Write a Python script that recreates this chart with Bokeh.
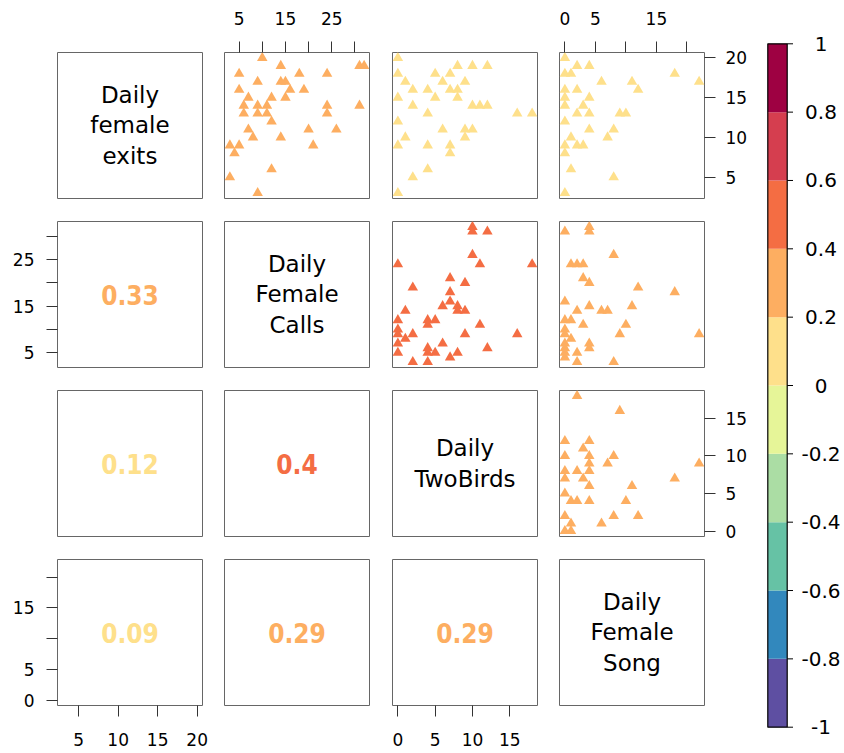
from bokeh.plotting import figure
from bokeh.layouts import row, column
from bokeh.models import LinearAxis, FixedTicker, Range1d
from bokeh.core.properties import value
from bokeh.embed import file_html
from bokeh.resources import INLINE

# ---------------- data ----------------
var_names = ["Daily\nfemale\nexits", "Daily\nFemale\nCalls", "Daily\nTwoBirds", "Daily\nFemale\nSong"]

# upper panel (row 1, col 2): x = calls, y = exits
p12_calls = [10, 14, 31, 32, 5, 18, 24, 9, 14, 15, 5, 16, 19, 7, 12, 15, 6, 9, 11, 24, 31,
             6, 9, 11, 24, 12, 7, 20, 26, 8, 14, 3, 5, 21, 4, 12, 3, 9]
p12_exits = [20, 19, 19, 19, 18, 18, 18, 17, 17, 17, 16, 16, 16, 15, 15, 15, 14, 14, 14, 14, 14,
             13, 13, 13, 13, 12, 11, 11, 11, 10, 10, 9, 9, 9, 8, 6, 5, 3]
# upper panel (row 1, col 3): x = two birds, y = exits
p13_twobirds = [0, 8, 10, 12, 0, 5, 7, 1, 6, 9, 2, 4, 7, 8, 0, 5, 8, 2, 10, 11, 12,
                4, 16, 18, 0, 6, 9, 10, 1, 9, 0, 4, 7, 7, 4, 2, 0]
p13_exits = [20, 19, 19, 19, 18, 18, 18, 17, 17, 17, 16, 16, 16, 16, 15, 15, 15, 14, 14, 14, 14,
             13, 13, 13, 12, 11, 11, 11, 10, 10, 9, 9, 9, 8, 6, 5, 3]
# upper panel (row 1, col 4): x = song, y = exits
p14_song = [0, 2, 4, 0, 1, 18, 6, 11, 22, 0, 2, 12, 0, 4, 0, 3, 2, 4, 9, 10, 0, 4, 8, 1, 7,
            0, 2, 3, 0, 1, 8, 0]
p14_exits = [20, 19, 19, 18, 18, 18, 17, 17, 17, 16, 16, 16, 15, 15, 14, 14, 13, 13, 13, 13, 12,
             11, 11, 10, 10, 9, 9, 9, 8, 6, 5, 3]
# upper panel (row 2, col 3): x = two birds, y = calls
p23_twobirds = [10, 10, 12, 10, 0, 11, 18, 7, 9, 2, 7, 7, 6, 8, 8, 9, 1, 0, 4, 5, 4, 11, 0, 0,
                2, 9, 16, 1, 0, 6, 4, 12, 0, 4, 5, 8, 7, 2, 4]
p23_calls = [32, 31, 31, 26, 24, 24, 24, 21, 20, 19, 18, 16, 15, 15, 14, 14, 14, 12, 12, 12, 11,
             11, 10, 9, 9, 9, 9, 8, 7, 7, 6, 6, 5, 5, 5, 5, 4, 3, 3]
# upper panel (row 2, col 4): x = song, y = calls
p24_song = [0, 4, 4, 8, 1, 2, 3, 3, 4, 12, 18, 0, 4, 11, 2, 6, 7, 0, 1, 3, 10, 0, 0, 9, 22, 1,
            4, 0, 0, 4, 0, 2, 0, 2, 8]
p24_calls = [31, 32, 31, 26, 24, 24, 24, 21, 20, 19, 18, 16, 15, 15, 14, 14, 14, 12, 12, 11, 11,
             10, 9, 9, 9, 8, 7, 7, 6, 6, 5, 5, 4, 3, 3]
# upper panel (row 3, col 4): x = song, y = two birds
p34_song = [2, 9, 0, 4, 3, 0, 4, 8, 4, 7, 22, 0, 2, 4, 0, 3, 18, 4, 11, 0, 1, 2, 4, 10, 0, 8,
            12, 1, 6, 0, 1]
p34_twobirds = [18, 16, 12, 12, 11, 10, 10, 10, 9, 9, 9, 8, 8, 8, 7, 7, 7, 6, 6, 5, 4, 4, 4, 4,
                2, 2, 2, 1, 1, 0, 0]

# correlation coefficients (lower panels)
corr_pairs = [(0, 1), (0, 2), (0, 3), (1, 2), (1, 3), (2, 3)]
corr_r = [0.33, 0.12, 0.09, 0.4, 0.29, 0.29]
corr_text = ["0.33", "0.12", "0.09", "0.4", "0.29", "0.29"]

# axis ticks per variable (and ticks left without a label)
axis_ticks = {0: [5, 10, 15, 20], 1: [5, 10, 15, 20, 25, 30], 2: [0, 5, 10, 15], 3: [0, 5, 10, 15, 20]}
axis_unlabeled = {0: [], 1: [10, 20, 30], 2: [], 3: [10, 20]}

# colour legend
bin_edges = [-1.0, -0.8, -0.6, -0.4, -0.2, 0.0, 0.2, 0.4, 0.6, 0.8, 1.0]
bin_colors = ["#5E4FA2", "#3288BD", "#66C2A5", "#ABDDA4", "#E6F598",
              "#FEE08B", "#FDAE61", "#F46D43", "#D53E4F", "#9E0142"]
cbar_ticks = [-1.0, -0.8, -0.6, -0.4, -0.2, 0.0, 0.2, 0.4, 0.6, 0.8, 1.0]
cbar_labels = ["-1", "-0.8", "-0.6", "-0.4", "-0.2", "0", "0.2", "0.4", "0.6", "0.8", "1"]

# ---------------- helpers ----------------
upper = {(0, 1): (p12_calls, p12_exits), (0, 2): (p13_twobirds, p13_exits),
         (0, 3): (p14_song, p14_exits), (1, 2): (p23_twobirds, p23_calls),
         (1, 3): (p24_song, p24_calls), (2, 3): (p34_song, p34_twobirds)}

var_vals = {0: p12_exits + p13_exits + p14_exits,
            1: p12_calls + p23_calls + p24_calls,
            2: p13_twobirds + p23_twobirds + p34_twobirds,
            3: p14_song + p24_song + p34_song}
rng = {}
for k, vals in var_vals.items():
    lo, hi = min(vals), max(vals)
    pad = 0.04 * (hi - lo)
    rng[k] = (lo - pad, hi + pad)


def corr_color(r):
    idx = int((r + 1) / 0.2 + 1e-9)
    return bin_colors[min(max(idx, 0), 9)]


corr_lookup = {pr: (r, t) for pr, r, t in zip(corr_pairs, corr_r, corr_text)}

FONT = "DejaVu Sans"
col_w = [213, 167, 168, 205]
col_l = [57, 11, 12, 11]
col_r = [11, 11, 11, 49]
row_h = [209, 169, 169, 205]
row_t = [52, 12, 12, 12]
row_b = [11, 11, 11, 47]


def style_axis(ax, k, standoff):
    ax.ticker = FixedTicker(ticks=axis_ticks[k])
    ax.major_label_overrides = {t: "" for t in axis_unlabeled[k]}
    ax.axis_line_color = None
    ax.major_tick_in = 0
    ax.major_tick_out = 11
    ax.major_tick_line_color = "#333333"
    ax.minor_tick_line_color = None
    ax.major_label_text_font = FONT
    ax.major_label_text_font_size = "17px"
    ax.major_label_text_color = "black"
    ax.major_label_standoff = standoff
    return ax


rows = []
for i in range(4):
    figs = []
    for j in range(4):
        p = figure(width=col_w[j], height=row_h[i],
                   x_range=Range1d(*rng[j]), y_range=Range1d(*rng[i]),
                   x_axis_location=None, y_axis_location=None,
                   toolbar_location=None, output_backend="svg",
                   min_border_left=col_l[j], min_border_right=col_r[j],
                   min_border_top=row_t[i], min_border_bottom=row_b[i])
        p.xgrid.visible = False
        p.ygrid.visible = False
        p.outline_line_color = "#666666"
        p.outline_line_width = 1
        p.background_fill_color = "white"
        p.border_fill_color = "white"

        cx = (rng[j][0] + rng[j][1]) / 2
        cy = (rng[i][0] + rng[i][1]) / 2
        if i == j:
            p.text(x=[cx], y=[cy], text=[var_names[i]], text_font=value(FONT),
                   text_font_size="23px", text_align="center", text_baseline="middle",
                   text_line_height=1.16, text_color="black")
        elif i < j:
            xs, ys = upper[(i, j)]
            r, _ = corr_lookup[(i, j)]
            p.scatter(x=xs, y=ys, marker="triangle", size=10.5,
                      fill_color=corr_color(r), line_color=None)
        else:
            r, t = corr_lookup[(j, i)]
            p.text(x=[cx], y=[cy], text=[t], text_font=value("DejaVu Sans Condensed"),
                   text_font_style="bold", text_font_size="26px",
                   text_align="center", text_baseline="middle", text_color=corr_color(r))

        if i == 0 and j % 2 == 1:
            p.add_layout(style_axis(LinearAxis(), j, 17), "above")
        if i == 3 and j % 2 == 0:
            p.add_layout(style_axis(LinearAxis(), j, 16), "below")
        if j == 0 and i % 2 == 1:
            p.add_layout(style_axis(LinearAxis(), i, 12), "left")
        if j == 3 and i % 2 == 0:
            p.add_layout(style_axis(LinearAxis(), i, 10), "right")
        figs.append(p)
    rows.append(row(*figs, spacing=0))

grid = column(*rows, spacing=0)

# ---------------- colour legend ----------------
cb_h = sum(row_h)
bar_top_px, bar_bot_px = 43.3, 726.7
unit = (bar_bot_px - bar_top_px) / (bin_edges[-1] - bin_edges[0])
y_hi = bin_edges[-1] + bar_top_px / unit
y_lo = bin_edges[0] - (cb_h - bar_bot_px) / unit
cb = figure(width=89, height=cb_h, x_range=Range1d(0, 89), y_range=Range1d(y_lo, y_hi),
            x_axis_location=None, y_axis_location=None, toolbar_location=None,
            output_backend="svg", min_border=0)
cb.xgrid.visible = False
cb.ygrid.visible = False
cb.outline_line_color = None
cb.background_fill_color = "white"
cb.border_fill_color = "white"
bar_l, bar_r = 14.3, 33.7
cb.quad(left=bar_l, right=bar_r, bottom=bin_edges[:-1], top=bin_edges[1:],
        fill_color=bin_colors, line_color=None)
cb.quad(left=[bar_l], right=[bar_r], bottom=[bin_edges[0]], top=[bin_edges[-1]],
        fill_color=None, line_color="black", line_width=1.2)
cb.segment(x0=bar_r, x1=bar_r + 5.8, y0=cbar_ticks, y1=cbar_ticks, line_color="black", line_width=1)
cb.text(x=67.5, y=cbar_ticks, text=cbar_labels, text_font=value(FONT), text_font_size="20px",
        text_align="center", text_baseline="middle", text_color="black")

layout = row(grid, cb, spacing=0)

open("out.html", "w").write(file_html(layout, INLINE))
